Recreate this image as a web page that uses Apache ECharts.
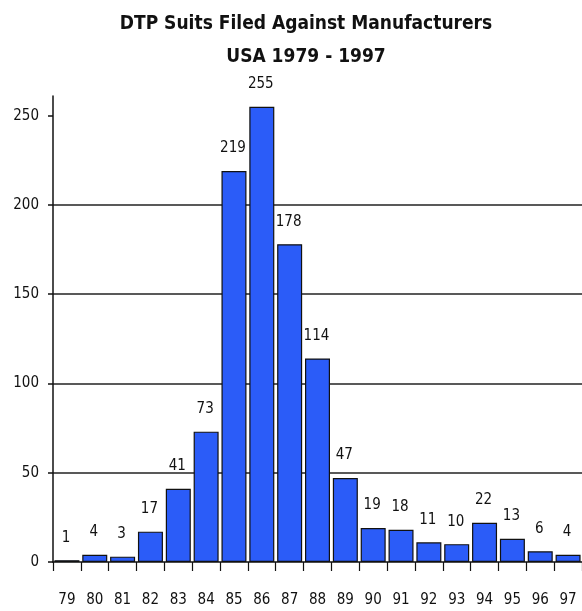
<!DOCTYPE html>
<html>
<head>
<meta charset="utf-8">
<title>DTP Suits Filed Against Manufacturers</title>
<script src="https://cdn.jsdelivr.net/npm/echarts@6/dist/echarts.min.js"></script>
<style>
  html, body { margin: 0; padding: 0; background: #ffffff; }
  #chart { width: 582px; height: 611px; }
</style>
</head>
<body>
<div id="chart"></div>
<script>
// Suits filed per year, 1979-1997
const years = ['79', '80', '81', '82', '83', '84', '85', '86', '87', '88',
               '89', '90', '91', '92', '93', '94', '95', '96', '97'];
const suits = [1, 4, 3, 17, 41, 73, 219, 255, 178, 114,
               47, 19, 18, 11, 10, 22, 13, 6, 4];
const yTicks = [0, 50, 100, 150, 200, 250];

const FONT = "'Liberation Sans Narrow', 'Arial Narrow', 'DejaVu Sans Condensed', sans-serif";
const INK = '#111111';

const chart = echarts.init(document.getElementById('chart'), null, { renderer: 'canvas' });

chart.setOption({
  animation: false,
  backgroundColor: '#ffffff',
  title: {
    text: 'DTP Suits Filed Against Manufacturers\nUSA 1979 - 1997',
    left: 301,
    top: 3,
    textAlign: 'center',
    textStyle: {
      fontFamily: FONT,
      fontWeight: 'bold',
      fontSize: 19,
      lineHeight: 33,
      color: INK
    }
  },
  grid: {
    left: 53,
    width: 532,
    top: 96,
    bottom: 49,
    containLabel: false
  },
  xAxis: {
    type: 'category',
    data: years,
    boundaryGap: true,
    axisLine: { show: true, lineStyle: { color: INK, width: 1.5 } },
    axisTick: { show: true, length: 9, lineStyle: { color: INK, width: 1.2 } },
    axisLabel: {
      margin: 31,
      fontFamily: FONT,
      fontSize: 15,
      color: INK,
      interval: 0
    },
    splitLine: { show: false }
  },
  yAxis: {
    type: 'value',
    min: 0,
    max: 261,
    interval: 50,
    axisLine: { show: true, lineStyle: { color: INK, width: 1.5 } },
    axisTick: {
      show: true,
      length: 5,
      customValues: yTicks,
      lineStyle: { color: INK, width: 1.5 }
    },
    axisLabel: {
      margin: 14,
      fontFamily: FONT,
      fontSize: 15,
      color: INK,
      customValues: yTicks
    },
    splitLine: {
      show: true,
      showMinLine: false,
      showMaxLine: false,
      lineStyle: { color: '#222222', width: 1.5 }
    }
  },
  series: [
    {
      type: 'bar',
      data: suits,
      barWidth: 25,
      itemStyle: {
        color: '#2b5cf8',
        borderColor: '#111111',
        borderWidth: 1.2
      },
      label: {
        show: true,
        position: 'top',
        distance: 15,
        offset: [-1, 0],
        fontFamily: FONT,
        fontSize: 15,
        color: INK
      }
    }
  ]
});
</script>
</body>
</html>
